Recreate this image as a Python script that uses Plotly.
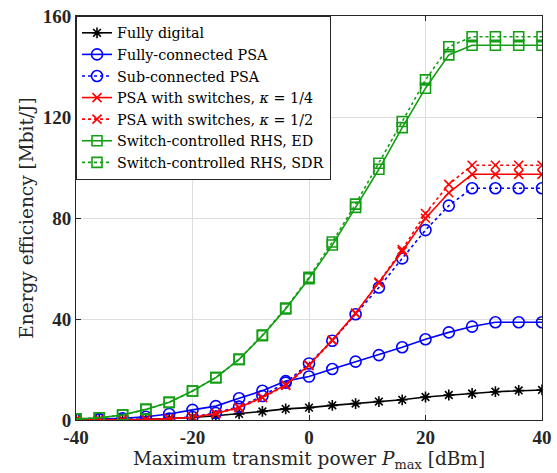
import plotly.graph_objects as go

p_max = [-40, -36, -32, -28, -24, -20, -16, -12, -8, -4, 0, 4, 8, 12, 16, 20, 24, 28, 32, 36, 40]

fully_digital = [0.1, 0.1, 0.1, 0.3, 0.6, 1.0, 1.7, 2.4, 3.4, 4.4, 4.9, 5.8, 6.5, 7.3, 8.0, 9.1, 9.9, 10.5, 11.2, 11.7, 11.9]
fully_connected = [0.2, 0.4, 0.7, 1.3, 2.4, 4.0, 5.5, 8.6, 11.6, 15.4, 17.2, 20.2, 23.1, 25.7, 28.8, 32.0, 34.7, 37.0, 38.7, 38.7, 38.7]
sub_connected = [0.1, 0.1, 0.2, 0.3, 0.6, 1.2, 2.8, 5.3, 9.5, 14.8, 22.4, 31.4, 41.9, 52.5, 64.0, 75.2, 84.9, 91.8, 91.8, 91.8, 91.8]
psa_sw_quarter = [0.1, 0.1, 0.1, 0.2, 0.5, 1.1, 2.6, 5.0, 9.0, 13.9, 21.8, 31.7, 42.3, 54.3, 66.7, 79.9, 90.0, 97.3, 97.3, 97.3, 97.3]
psa_sw_half = [0.1, 0.1, 0.1, 0.2, 0.5, 1.1, 2.5, 4.8, 8.8, 13.7, 21.5, 31.5, 42.2, 54.6, 67.5, 81.8, 93.3, 100.9, 100.9, 100.9, 100.9]
rhs_ed = [0.4, 0.9, 2.0, 4.2, 7.0, 11.5, 16.8, 24.0, 33.4, 44.0, 56.0, 69.3, 84.2, 99.3, 115.8, 131.4, 144.6, 148.4, 148.4, 148.4, 148.4]
rhs_sdr = [0.4, 0.9, 2.0, 4.2, 7.0, 11.5, 16.8, 24.0, 33.6, 44.3, 56.5, 70.5, 85.5, 101.7, 118.2, 134.7, 147.8, 151.8, 151.8, 151.8, 151.8]

x_ticks = [-40, -20, 0, 20, 40]
y_ticks = [0, 40, 80, 120, 160]

GREEN = "rgb(20,158,20)"
series = [
    ("Fully digital", fully_digital, "black", "solid", "asterisk-open", 9),
    ("Fully-connected PSA", fully_connected, "rgb(0,0,255)", "solid", "circle-open", 11),
    ("Sub-connected PSA", sub_connected, "rgb(0,0,255)", "dot", "circle-open", 11),
    ("PSA with switches, <i>κ</i> = 1/4", psa_sw_quarter, "rgb(255,0,0)", "solid", "x-thin-open", 9),
    ("PSA with switches, <i>κ</i> = 1/2", psa_sw_half, "rgb(255,0,0)", "dot", "x-thin-open", 9),
    ("Switch-controlled RHS, ED", rhs_ed, GREEN, "solid", "square-open", 10),
    ("Switch-controlled RHS, SDR", rhs_sdr, GREEN, "dot", "square-open", 10),
]

fig = go.Figure()
for name, ys, color, dash, sym, sz in series:
    fig.add_trace(go.Scatter(
        x=p_max, y=ys, name=name, mode="lines+markers",
        line=dict(color=color, width=1.6, dash=dash),
        marker=dict(symbol=sym, size=sz, color=color, line=dict(color=color, width=1.6)),
    ))

FF = "Liberation Serif"
TF = "DejaVu Serif"
AX = "rgb(38,38,38)"
fig.update_layout(
    width=557, height=473,
    margin=dict(l=76, r=15, t=16, b=53, autoexpand=False),
    plot_bgcolor="white", paper_bgcolor="white",
    font=dict(family=FF, color="black"),
    showlegend=True,
    legend=dict(
        x=0, y=1, xanchor="left", yanchor="top",
        bgcolor="white", bordercolor=AX, borderwidth=1,
        font=dict(family=TF, size=14.3, color="black"),
        itemwidth=30, tracegroupgap=0,
    ),
    xaxis=dict(
        range=[-40, 40], tickvals=x_ticks, ticktext=[f"<b>{v}</b>" for v in x_ticks],
        showgrid=True, gridcolor="rgb(222,222,222)", gridwidth=1, automargin=False,
        zeroline=False, showline=True, linecolor=AX, linewidth=1, mirror="ticks",
        ticks="inside", ticklen=5, tickcolor=AX,
        tickfont=dict(family=FF, size=19, color=AX),
        title=dict(text="Maximum transmit power <i>P</i><sub>max</sub> [dBm]",
                   font=dict(family=TF, size=18.5, color=AX), standoff=2),
    ),
    yaxis=dict(
        range=[0, 160], tickvals=y_ticks, ticktext=[f"<b>{v}</b>" for v in y_ticks],
        showgrid=True, gridcolor="rgb(222,222,222)", gridwidth=1, automargin=False,
        zeroline=False, showline=True, linecolor=AX, linewidth=1, mirror="ticks",
        ticks="inside", ticklen=5, tickcolor=AX,
        tickfont=dict(family=FF, size=19, color=AX),
        title=dict(text="Energy efficiency [Mbit/J]",
                   font=dict(family=TF, size=18.5, color=AX), standoff=4),
    ),
)

fig.write_html("out.html", config={"displayModeBar": False},
               post_script="document.body.style.margin='0';document.body.style.overflow='hidden';")
